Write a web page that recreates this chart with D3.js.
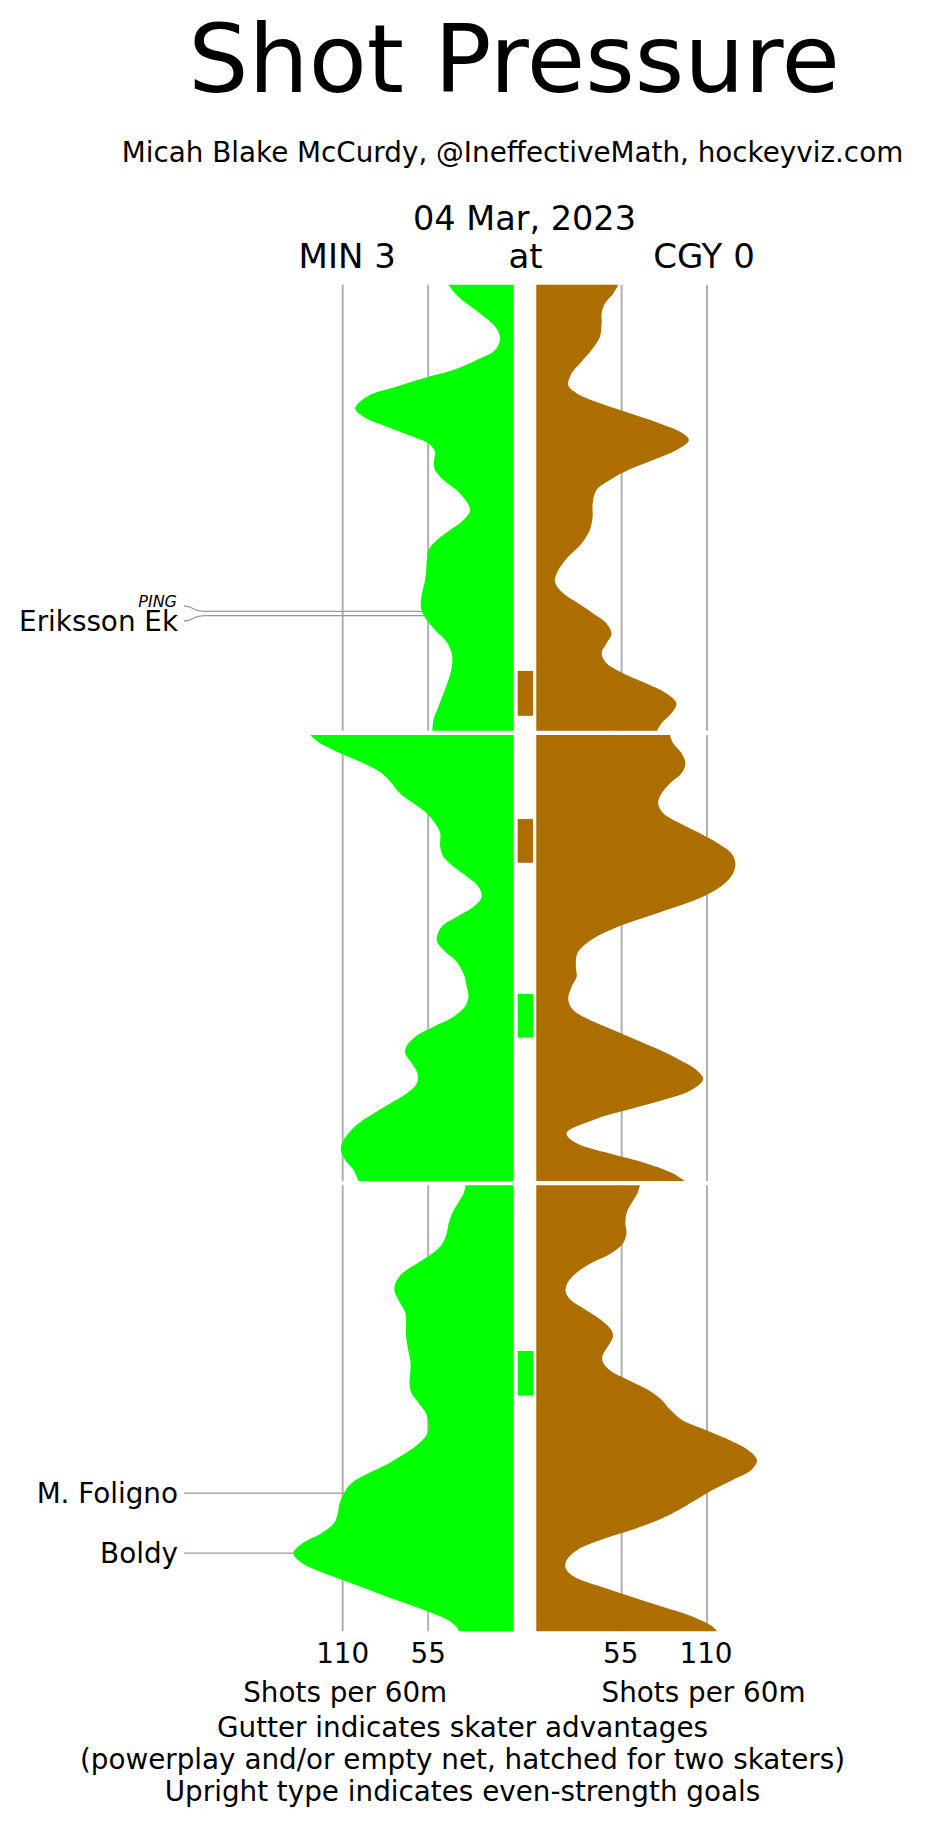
<!DOCTYPE html>
<html>
<head>
<meta charset="utf-8">
<script src="https://cdn.jsdelivr.net/npm/d3@7"></script>
<style>
body { margin: 0; background: #fff; }
svg { display: block; font-family: "DejaVu Sans", sans-serif; }
</style>
</head>
<body>
<svg id="svg1" width="925" height="1827"></svg>
<script>
// shot rates (shots per 60m) read per period, as [minute, rate]
var minP1 = [[0,42.0],[0.54,35.6],[1.29,21.6],[1.88,12.0],[2.41,8.8],[2.93,12.0],[3.38,23.8],[3.83,38.8],[4.13,54.8],[4.57,75.2],[5.02,94.5],[5.55,102.0],[5.92,96.6],[6.37,81.6],[6.82,64.5],[7.12,54.8],[7.49,50.6],[7.86,51.2],[8.31,50.6],[8.76,45.2],[9.36,34.5],[10.10,28.1],[10.55,32.3],[11.0,40.9],[11.45,49.5],[11.9,54.8],[12.35,55.9],[12.8,56.3],[13.24,57.0],[13.69,58.5],[14.29,59.8],[14.66,59.1],[15.04,55.9],[15.49,50.6],[15.93,44.1],[16.53,39.8],[17.13,39.8],[17.73,42.0],[18.33,45.2],[18.92,48.4],[19.52,51.6],[20,52.3]];
var cgyP1 = [[0,52.8],[0.39,49.6],[0.84,44.2],[1.29,42.1],[1.73,42.1],[2.33,41.0],[2.93,35.6],[3.53,28.1],[3.98,22.7],[4.5,20.6],[4.87,26.0],[5.32,41.0],[5.77,60.3],[6.22,79.6],[6.67,94.6],[6.97,98.3],[7.41,90.3],[7.86,75.3],[8.31,59.2],[8.76,47.4],[9.21,38.8],[9.81,36.3],[10.4,36.3],[11.0,34.5],[11.6,29.2],[12.2,20.6],[12.8,14.2],[13.32,12.0],[13.84,17.4],[14.29,27.0],[14.74,36.7],[15.19,45.3],[15.64,48.5],[16.08,45.3],[16.53,42.1],[16.98,45.3],[17.43,56.0],[17.88,71.0],[18.33,83.9],[18.77,90.3],[19.22,87.1],[19.67,80.7],[20,77.9]];
var minP2 = [[0,130.9],[0.37,124.5],[0.82,111.6],[1.27,96.6],[1.72,84.8],[2.17,78.4],[2.62,73.1],[3.06,64.5],[3.51,55.9],[3.96,50.6],[4.41,47.3],[5.01,47.3],[5.46,45.2],[5.9,38.8],[6.35,30.2],[6.8,22.7],[7.25,20.6],[7.7,25.9],[8.15,36.6],[8.59,46.3],[9.19,49.5],[9.64,45.2],[10.09,37.7],[10.69,32.3],[11.29,30.2],[11.73,29.1],[12.18,31.3],[12.63,38.8],[13.08,51.6],[13.53,63.4],[13.98,69.2],[14.27,69.8],[14.72,65.6],[15.17,61.9],[15.62,62.3],[16.07,68.8],[16.52,79.5],[16.97,90.2],[17.41,99.8],[17.86,106.3],[18.31,110.5],[18.68,111.0],[19.06,108.4],[19.51,103.0],[20,99.8]];
var cgyP2 = [[0,86.1],[0.37,88.2],[0.82,93.6],[1.27,96.1],[1.72,93.6],[2.17,86.1],[2.62,80.7],[3.06,78.5],[3.51,81.8],[3.96,92.5],[4.41,105.4],[4.86,117.2],[5.31,125.8],[5.75,128.3],[6.2,126.8],[6.65,121.5],[7.1,111.8],[7.55,96.8],[8.0,77.5],[8.45,58.2],[8.89,43.1],[9.34,32.4],[9.79,26.4],[10.39,25.5],[10.84,26.0],[11.29,22.7],[11.88,20.6],[12.33,23.8],[12.78,34.5],[13.23,49.6],[13.68,64.6],[14.13,79.6],[14.57,92.5],[15.02,103.2],[15.44,107.5],[15.92,100.0],[16.37,81.8],[16.82,58.2],[17.26,36.7],[17.86,19.5],[18.31,26.0],[18.77,47.4],[19.21,71.0],[19.66,88.2],[20,95.7]];
var minP3 = [[0,30.9],[0.36,32.2],[0.81,35.9],[1.26,39.6],[1.7,41.8],[2.15,43.1],[2.6,45.7],[3.05,52.2],[3.5,62.0],[3.95,71.8],[4.39,76.1],[4.77,76.6],[5.29,72.9],[5.74,69.6],[6.19,69.2],[6.79,69.2],[7.38,67.9],[7.98,66.3],[8.43,66.6],[8.88,67.0],[9.33,65.7],[9.78,60.9],[10.22,56.5],[10.67,54.8],[11.12,55.5],[11.57,60.9],[12.02,69.6],[12.47,80.5],[12.91,93.5],[13.36,104.4],[13.81,109.2],[14.26,112.0],[14.71,113.1],[15.16,115.7],[15.61,124.0],[16.05,135.9],[16.5,141.8],[16.95,135.9],[17.4,121.8],[17.85,104.4],[18.3,87.0],[18.74,69.6],[19.19,52.2],[19.49,42.4],[19.79,37.0],[20,35.2]];
var cgyP3 = [[0,66.8],[0.36,65.2],[0.81,61.3],[1.26,58.1],[1.7,57.4],[2.15,58.1],[2.6,55.9],[3.05,48.3],[3.5,35.2],[3.95,25.4],[4.39,20.0],[4.77,18.9],[5.14,22.2],[5.59,32.0],[6.04,41.8],[6.49,48.3],[6.79,49.4],[7.23,46.1],[7.61,42.8],[7.91,42.8],[8.28,47.2],[8.73,59.2],[9.18,72.2],[9.63,80.9],[10.07,86.3],[10.52,94.0],[10.97,109.2],[11.42,124.4],[11.87,136.4],[12.32,142.2],[12.77,138.5],[13.21,126.6],[13.66,113.5],[14.11,102.7],[14.56,91.8],[15.01,78.7],[15.46,61.3],[15.9,41.8],[16.35,26.5],[16.8,19.6],[17.17,18.9],[17.55,24.4],[18.0,41.8],[18.45,61.3],[18.89,80.9],[19.34,100.5],[19.79,113.5],[20,116.4]];

var periods = [1, 2, 3];
var minSeries = [minP1, minP2, minP3];
var cgySeries = [cgyP1, cgyP2, cgyP3];
var rateTicks = [55, 110];

// skater advantages: [period, start minute, end minute]
var minAdvantages = [[2, 11.61, 13.57], [3, 7.43, 9.43]];
var cgyAdvantages = [[1, 17.32, 19.33], [2, 3.77, 5.73]];

// goals / events for MIN: [period, minute, label, even strength]
var minGoals = [[1, 14.65, 'PING', false], [1, 14.84, 'Eriksson Ek', true], [3, 13.8, 'M. Foligno', true], [3, 16.49, 'Boldy', true]];

var teams = ['MIN 3', 'at', 'CGY 0'];
var gameDate = '04 Mar, 2023';
var notes = ['Gutter indicates skater advantages', '(powerplay and/or empty net, hatched for two skaters)', 'Upright type indicates even-strength goals'];

var minColor = '#00ff00';
var cgyColor = '#ad6e00';
var textSize = '27.8px';

var svg = d3.select('#svg1');

var xLeft = d3.scaleLinear().domain([0, 110]).range([513.7, 342.7]);
var xRight = d3.scaleLinear().domain([0, 110]).range([536.3, 707]);
var periodTop = d3.scaleLinear().domain([1, 2]).range([284.7, 735]);
var periodHeight = 446;

function yScale(p) {
    return d3.scaleLinear().domain([0, 20]).range([periodTop(p), periodTop(p) + periodHeight]);
}

// value of a series at a given minute (linear between read points)
function rateAt(series, t) {
    var i = d3.bisector(function(d){ return d[0]; }).left(series, t);
    if (i <= 0) return series[0][1];
    if (i >= series.length) return series[series.length - 1][1];
    var a = series[i - 1], b = series[i];
    return a[1] + (b[1] - a[1]) * (t - a[0]) / (b[0] - a[0]);
}

// titles
svg.append('text').text('Shot Pressure')
    .attr('x', 514).attr('y', 92)
    .attr('text-anchor', 'middle').style('font-size', '95px');

svg.append('text').text('Micah Blake McCurdy, @IneffectiveMath, hockeyviz.com')
    .attr('x', 512.5).attr('y', 162)
    .attr('text-anchor', 'middle').style('font-size', textSize);

svg.append('text').text(gameDate)
    .attr('x', 524.5).attr('y', 230)
    .attr('text-anchor', 'middle').style('font-size', '33.5px');

var teamX = [xLeft(110) + 4.5, 525.5, xRight(110) - 3];
svg.selectAll('.team').data(teams).enter().append('text')
    .attr('class', 'team')
    .text(function(d){ return d; })
    .attr('x', function(d, i){ return teamX[i]; })
    .attr('y', 268)
    .attr('text-anchor', 'middle').style('font-size', '34px');

periods.forEach(function(p, i) {
    var y = yScale(p);
    var g = svg.append('g');

    // grid lines
    g.selectAll('.gl').data(rateTicks).enter().append('line')
        .attr('x1', function(d){ return xLeft(d); }).attr('x2', function(d){ return xLeft(d); })
        .attr('y1', y(0)).attr('y2', y(20))
        .attr('stroke', '#b0b0b0').attr('stroke-width', 2);
    g.selectAll('.gr').data(rateTicks).enter().append('line')
        .attr('x1', function(d){ return xRight(d); }).attr('x2', function(d){ return xRight(d); })
        .attr('y1', y(0)).attr('y2', y(20))
        .attr('stroke', '#b0b0b0').attr('stroke-width', 2);

    var areaL = d3.area()
        .curve(d3.curveCatmullRom.alpha(0.5))
        .y(function(d){ return y(d[0]); })
        .x0(xLeft(0))
        .x1(function(d){ return xLeft(d[1]); });
    var areaR = d3.area()
        .curve(d3.curveCatmullRom.alpha(0.5))
        .y(function(d){ return y(d[0]); })
        .x0(xRight(0))
        .x1(function(d){ return xRight(d[1]); });

    g.append('path').datum(minSeries[i]).attr('d', areaL).attr('fill', minColor);
    g.append('path').datum(cgySeries[i]).attr('d', areaR).attr('fill', cgyColor);

    // gutter
    g.selectAll('.ppm').data(minAdvantages.filter(function(d){ return d[0] === p; })).enter().append('rect')
        .attr('x', 517.7).attr('width', 15.3)
        .attr('y', function(d){ return y(d[1]); })
        .attr('height', function(d){ return y(d[2]) - y(d[1]); })
        .attr('fill', minColor);
    g.selectAll('.ppc').data(cgyAdvantages.filter(function(d){ return d[0] === p; })).enter().append('rect')
        .attr('x', 517.7).attr('width', 15.3)
        .attr('y', function(d){ return y(d[1]); })
        .attr('height', function(d){ return y(d[2]) - y(d[1]); })
        .attr('fill', cgyColor);
});

// goal labels, dodged so they do not overlap
var goalMarks = minGoals.map(function(d) {
    var y = yScale(d[0])(d[1]);
    return { y: y, labelY: y, x: xLeft(rateAt(minSeries[d[0] - 1], d[1])), name: d[2], even: d[3] };
});
for (var k = 1; k < goalMarks.length; k++) {
    var a = goalMarks[k - 1], b = goalMarks[k];
    if (b.labelY - a.labelY < 15) {
        var mid = (a.y + b.y) / 2;
        a.labelY = mid - 7.5;
        b.labelY = mid + 7.5;
    }
}

var labelX = 178;
goalMarks.forEach(function(d) {
    var path = d3.path();
    path.moveTo(labelX + 6, d.labelY);
    if (Math.abs(d.labelY - d.y) > 0.5) {
        path.bezierCurveTo(labelX + 16, d.labelY, labelX + 14, d.y, labelX + 26, d.y);
    }
    path.lineTo(d.x, d.y);
    svg.append('path').attr('d', path.toString())
        .attr('fill', 'none').attr('stroke', '#999').attr('stroke-width', 1.3);

    svg.append('text').text(d.name)
        .attr('x', d.even ? labelX : labelX - 1)
        .attr('y', d.labelY)
        .attr('dy', d.even ? '0.35em' : '0.05em')
        .attr('text-anchor', 'end')
        .style('font-size', d.even ? textSize : '16px')
        .style('font-style', d.even ? 'normal' : 'italic');
});

// bottom axis labels
svg.selectAll('.tl').data(rateTicks).enter().append('text')
    .text(function(d){ return d; })
    .attr('x', function(d){ return xLeft(d); }).attr('y', 1663)
    .attr('text-anchor', 'middle').style('font-size', textSize);
svg.selectAll('.tr').data(rateTicks).enter().append('text')
    .text(function(d){ return d; })
    .attr('x', function(d){ return xRight(d) - 1; }).attr('y', 1663)
    .attr('text-anchor', 'middle').style('font-size', textSize);

svg.append('text').text('Shots per 60m')
    .attr('x', xLeft(110) + 2.5).attr('y', 1702)
    .attr('text-anchor', 'middle').style('font-size', textSize);
svg.append('text').text('Shots per 60m')
    .attr('x', xRight(110) - 3.5).attr('y', 1702)
    .attr('text-anchor', 'middle').style('font-size', textSize);

svg.selectAll('.note').data(notes).enter().append('text')
    .text(function(d){ return d; })
    .attr('x', 462.5)
    .attr('y', function(d, i){ return 1737 + i * 32; })
    .attr('text-anchor', 'middle').style('font-size', textSize);
</script>
</body>
</html>
